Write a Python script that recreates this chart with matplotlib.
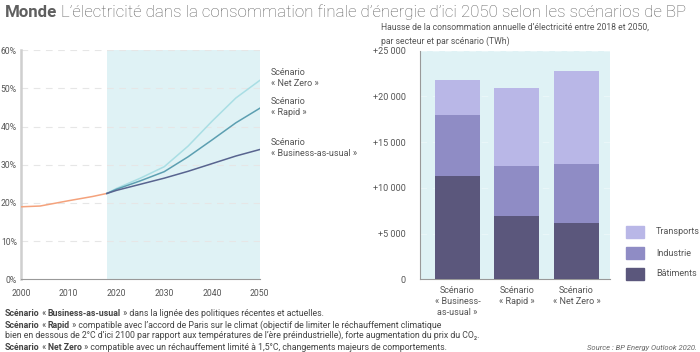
import matplotlib.pyplot as plt
from matplotlib.patches import Rectangle

plt.rcParams['font.family'] = ['Roboto', 'DejaVu Sans']

# left chart: share of electricity in final energy (%)
hist_years = [2000, 2004, 2010, 2015, 2018]
hist_share = [19.0, 19.2, 20.6, 21.7, 22.5]

scen_years = [2018, 2020, 2025, 2030, 2035, 2040, 2045, 2050]
bau = [22.5, 23.3, 24.9, 26.5, 28.3, 30.3, 32.3, 34.0]
rapid = [22.5, 23.6, 25.8, 28.2, 32.1, 36.5, 41.0, 44.8]
netzero = [22.5, 23.8, 26.5, 29.5, 34.9, 41.4, 47.5, 52.1]

# right chart: increase in electricity consumption 2018-2050 (TWh)
scenarios = ['Scénario\n« Business-\nas-usual »', 'Scénario\n« Rapid »', 'Scénario\n« Net Zero »']
batiments = [11330, 6960, 6190]
industrie = [6670, 5460, 6420]
transports = [3760, 8470, 10140]
sectors = ['Transports', 'Industrie', 'Bâtiments']

c_hist = '#f4a27c'
c_nz = '#a9dee4'
c_rapid = '#5c9fb1'
c_bau = '#58648f'
c_bat = '#5b577c'
c_ind = '#8f8cc5'
c_tra = '#b9b7e7'
shade = '#dff2f5'
tick_col = '#555555'

fig = plt.figure(figsize=(7, 3.52), dpi=100)

# ---- left chart
ax1 = fig.add_axes([0.030, 0.2065, 0.341, 0.6506])
ax1.axvspan(2018, 2050, color=shade, lw=0, zorder=0)
for v in range(10, 61, 10):
    ax1.axhline(v, color='#e6e6e6', lw=0.8, ls=(0, (6, 5)), zorder=1)
ax1.plot(hist_years, hist_share, color=c_hist, lw=1.1, zorder=3)
ax1.plot(scen_years, netzero, color=c_nz, lw=1.1, zorder=3)
ax1.plot(scen_years, rapid, color=c_rapid, lw=1.1, zorder=3)
ax1.plot(scen_years, bau, color=c_bau, lw=1.1, zorder=3)
ax1.set_xlim(2000, 2050)
ax1.set_ylim(0, 60)
ax1.set_xticks(range(2000, 2051, 10))
ax1.set_yticks(range(0, 61, 10))
ax1.set_yticklabels([f'{v}%' for v in range(0, 61, 10)])
ax1.tick_params(length=0, labelsize=6.2, colors=tick_col)
ax1.tick_params(axis='y', pad=3)
ax1.tick_params(axis='x', pad=7)
for s in ['top', 'right']:
    ax1.spines[s].set_visible(False)
ax1.spines['left'].set_color('#cfcfcf')
ax1.spines['left'].set_linewidth(1.8)
ax1.spines['bottom'].set_color('#999999')
ax1.spines['bottom'].set_linewidth(0.8)
ax1.set_facecolor('none')

for lab, yc in [('Scénario\n« Net Zero »', 78), ('Scénario\n« Rapid »', 107),
                ('Scénario\n« Business-as-usual »', 148)]:
    fig.text(271 / 700, 1 - yc / 352, lab, fontsize=6.5, color=tick_col,
             va='center', linespacing=1.3)

# ---- right chart
ax2 = fig.add_axes([0.600, 0.2065, 0.2714, 0.6494])
ax2.set_facecolor(shade)
x = [0, 1, 2]
w = 0.756
ax2.bar(x, batiments, w, color=c_bat, zorder=3)
bot2 = [a + b for a, b in zip(batiments, industrie)]
ax2.bar(x, industrie, w, bottom=batiments, color=c_ind, zorder=3)
ax2.bar(x, transports, w, bottom=bot2, color=c_tra, zorder=3)
for v in range(5000, 25001, 5000):
    ax2.axhline(v, color='#e9f6f8', lw=0.8, ls=(0, (6, 5)), zorder=1)
ax2.set_xlim(-0.63, 2.563)
ax2.set_ylim(0, 25000)
ax2.set_xticks(x)
ax2.set_xticklabels(scenarios, linespacing=1.25)
ax2.set_yticks(range(0, 25001, 5000))
ax2.set_yticklabels(['0'] + [f'+{v // 1000} 000' for v in range(5000, 25001, 5000)])
ax2.tick_params(length=0, labelsize=6.5, colors=tick_col)
ax2.tick_params(axis='y', pad=10)
ax2.tick_params(axis='x', pad=5)
for s in ['top', 'right']:
    ax2.spines[s].set_visible(False)
for s in ['left', 'bottom']:
    ax2.spines[s].set_color('#999999')
    ax2.spines[s].set_linewidth(0.8)

# legend
leg_cols = [c_tra, c_ind, c_bat]
leg_y = [232, 253, 274]
for lab, col, yc in zip(sectors, leg_cols, leg_y):
    fig.add_artist(Rectangle((626 / 700, 1 - (yc + 6) / 352), 18 / 700, 12 / 352,
                             transform=fig.transFigure, color=col))
    fig.text(656 / 700, 1 - yc / 352, lab, fontsize=6.5, color=tick_col, va='center')


# ---- text pieces placed one after the other
def chain(x0, y0, parts, size=6.3, color='#444444'):
    prev = None
    for txt, weight in parts:
        kw = dict(fontsize=size, color=color, fontweight=weight)
        if prev is None:
            prev = fig.text(x0 / 700, 1 - y0 / 352, txt, va='bottom', **kw)
        else:
            prev = fig.add_artist(plt.Annotation(txt, xy=(1, 0), xycoords=prev, va='bottom',
                                                 annotation_clip=False, **kw))


chain(5, 20, [('Monde', 'bold'),
              (' L’électricité dans la consommation finale d’énergie d’ici 2050 selon les scénarios de BP', 'light')],
      size=12.2, color='#5f5f5f')

fig.text(381 / 700, 1 - 34 / 352,
         'Hausse de la consommation annuelle d’électricité entre 2018 et 2050,\npar secteur et par scénario (TWh)',
         fontsize=6.2, color=tick_col, va='center', linespacing=1.6)

chain(5, 318, [('Scénario', 'bold'), (' « ', 'normal'), ('Business-as-usual', 'bold'),
               (' » dans la lignée des politiques récentes et actuelles.', 'normal')])
chain(5, 330, [('Scénario', 'bold'), (' « ', 'normal'), ('Rapid', 'bold'),
               (' » compatible avec l’accord de Paris sur le climat (objectif de limiter le réchauffement climatique', 'normal')])
fig.text(5 / 700, 1 - 340 / 352,
         'bien en dessous de 2°C d’ici 2100 par rapport aux températures de l’ère préindustrielle), forte augmentation du prix du CO₂.',
         fontsize=6.3, color='#444444', va='bottom')
chain(5, 352, [('Scénario', 'bold'), (' « ', 'normal'), ('Net Zero', 'bold'),
               (' » compatible avec un réchauffement limité à 1,5°C, changements majeurs de comportements.', 'normal')])
fig.text(697 / 700, 1 - 351 / 352, 'Source : BP Energy Outlook 2020.', fontsize=5.5, color='#666666',
         ha='right', va='bottom', style='italic')

fig.savefig('out.png', dpi=100)
